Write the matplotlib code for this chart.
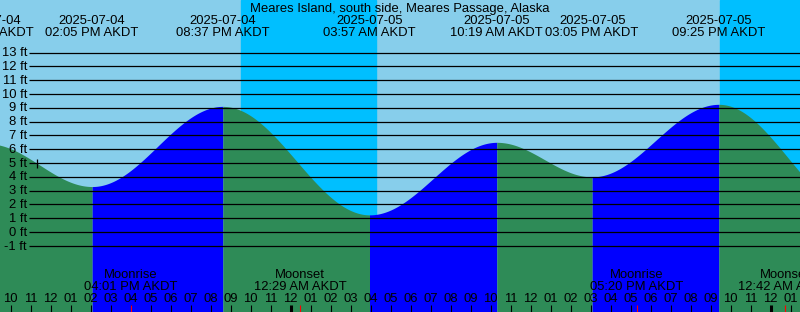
import numpy as np
import matplotlib
matplotlib.use('Agg')
import matplotlib.pyplot as plt
import matplotlib.transforms as mtrans

plt.rcParams['font.family'] = ['Liberation Sans', 'DejaVu Sans']

#%% Data (hours counted from 2025-07-04 00:00 AKDT)
title = 'Meares Island, south side, Meares Passage, Alaska'

tide_hours = [8.85, 14.083, 20.617, 27.95, 34.317, 39.083, 45.417, 52.4]
tide_heights = [6.4, 3.3, 9.1, 1.25, 6.5, 4.0, 9.25, 1.4]
tide_dates = ['2025-07-04', '2025-07-04', '2025-07-04', '2025-07-05',
              '2025-07-05', '2025-07-05', '2025-07-05', '2025-07-06']
tide_times = ['08:51 AM AKDT', '02:05 PM AKDT', '08:37 PM AKDT', '03:57 AM AKDT',
              '10:19 AM AKDT', '03:05 PM AKDT', '09:25 PM AKDT', '04:24 AM AKDT']

night_start = [21.525, 45.475]
night_end = [28.275, 53.0]

moon_hours = [16.017, 24.483, 41.333, 48.7]
moon_names = ['Moonrise', 'Moonset', 'Moonrise', 'Moonset']
moon_times = ['04:01 PM AKDT', '12:29 AM AKDT', '05:20 PM AKDT', '12:42 AM AKDT']

now_hour = 11.33
ft_levels = list(range(-1, 14))
hour_ticks = list(range(10, 50))

#%% Figure setup
W, H = 800, 312
FS = 9.4
fig = plt.figure(figsize=(W / 100, H / 100), dpi=100)
ax = fig.add_axes([0, 0, 1, 1])
x_left = 9.475
x_right = x_left + W / 20.0
ax.set_xlim(x_left, x_right)
ax.set_ylim(-5.78, 16.8)
ax.axis('off')

def fx(px):
    return px / W

def fy(py):
    return 1 - py / H

xdata_yaxes = mtrans.blended_transform_factory(ax.transData, ax.transAxes)
xaxes_ydata = mtrans.blended_transform_factory(ax.transAxes, ax.transData)

# sky
ax.axvspan(x_left - 5, x_right + 5, color='#87CEEB', zorder=0)
for s, e in zip(night_start, night_end):
    ax.axvspan(s, e, color='#00BFFF', zorder=1)

# tide curve, cosine between highs and lows
for i in range(len(tide_hours) - 1):
    t0, t1 = tide_hours[i], tide_hours[i + 1]
    v0, v1 = tide_heights[i], tide_heights[i + 1]
    t = np.linspace(t0, t1, 200)
    v = v1 + (v0 - v1) * (1 + np.cos(np.pi * (t - t0) / (t1 - t0))) / 2
    color = '#0000FF' if v1 > v0 else '#2E8B57'
    ax.fill_between(t, -10, v, color=color, lw=0, zorder=2)

# horizontal ft lines
ax.hlines(ft_levels, x_left + 29 / 20.0, x_right + 5, color='black', lw=0.9, zorder=3)
for lv in ft_levels:
    ax.text(fx(27), lv - 0.26, '%d ft' % lv, transform=xaxes_ydata,
            ha='right', va='baseline', fontsize=FS, zorder=7)

# now marker
i = np.searchsorted(tide_hours, now_hour) - 1
t0, t1 = tide_hours[i], tide_hours[i + 1]
v0, v1 = tide_heights[i], tide_heights[i + 1]
now_v = v1 + (v0 - v1) * (1 + np.cos(np.pi * (now_hour - t0) / (t1 - t0))) / 2
ax.vlines(now_hour, now_v - 0.3, now_v + 0.33, color='black', lw=0.9, zorder=4)

# title and extreme labels
ax.text(0.5, fy(12), title, transform=ax.transAxes, ha='center', va='baseline',
        fontsize=FS, zorder=7)
for h, d, tm in zip(tide_hours, tide_dates, tide_times):
    if h > x_right:
        continue
    ax.text(h, fy(24), d, transform=xdata_yaxes, ha='center', va='baseline',
            fontsize=FS, zorder=7)
    ax.text(h, fy(36), tm, transform=xdata_yaxes, ha='center', va='baseline',
            fontsize=FS, zorder=7)

# hour ticks
for h in hour_ticks:
    lab = '%02d' % ((h % 12) if h % 12 else 12)
    ax.text(h, fy(302), lab, transform=xdata_yaxes, ha='center', va='baseline',
            fontsize=FS, zorder=7)
    lw = 2.2 if h % 24 == 0 else 0.8
    ax.vlines(h, fy(H), fy(305), transform=xdata_yaxes, color='black', lw=lw, zorder=5)

# moon
for h, n, tm in zip(moon_hours, moon_names, moon_times):
    ax.text(h, fy(278), n, transform=xdata_yaxes, ha='center', va='baseline',
            fontsize=FS, zorder=7)
    ax.text(h, fy(290), tm, transform=xdata_yaxes, ha='center', va='baseline',
            fontsize=FS, zorder=7)
    ax.vlines(h, fy(H), fy(305), transform=xdata_yaxes, color='red', lw=0.8, zorder=6)

plt.savefig('out.png', dpi=100)
